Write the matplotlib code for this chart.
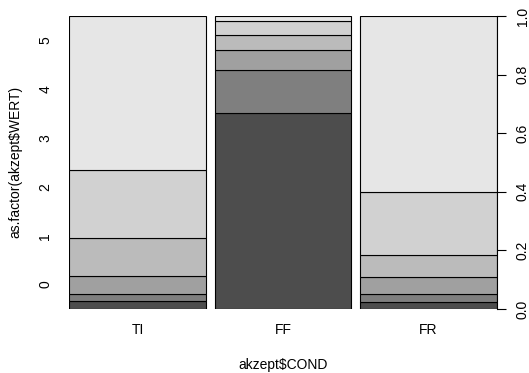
import matplotlib
matplotlib.use("Agg")
import matplotlib.pyplot as plt

plt.rcParams['font.family'] = ['Liberation Sans', 'DejaVu Sans']

# Spineplot: akzept$COND vs as.factor(akzept$WERT)
gruppen = ["TI", "FF", "FR"]
livelli = ["0", "1", "2", "3", "4", "5"]
# quota della colonna per gruppo (larghezze uguali)
larghezza = [1.0, 1.0, 1.0]
# proporzioni cumulative per livello, dal basso
cum_TI = [0.027, 0.052, 0.113, 0.242, 0.475, 1.0]
cum_FF = [0.668, 0.816, 0.885, 0.936, 0.984, 1.0]
cum_FR = [0.025, 0.052, 0.109, 0.184, 0.398, 1.0]
cumulative = [cum_TI, cum_FF, cum_FR]

colori = ["#4d4d4d", "#7f7f7f", "#a0a0a0", "#bbbbbb", "#d1d1d1", "#e6e6e6"]

fig = plt.figure(figsize=(5.29, 3.73), dpi=100)
ax = fig.add_axes([69 / 529, (373 - 309) / 373, (497 - 69) / 529, 293 / 373])

off = 0.02
tot = sum(larghezza)
n = len(gruppen)
scala = (1 - off * (n - 1)) / tot
x0 = 0
centri = []
for g in range(n):
    w = larghezza[g] * scala
    basso = 0
    for k in range(len(livelli)):
        alto = cumulative[g][k]
        ax.bar(x0, alto - basso, width=w, bottom=basso, align="edge",
               color=colori[k], edgecolor="black", linewidth=0.8)
        basso = alto
    centri.append(x0 + w / 2)
    x0 += w + off

ax.set_xlim(0, 1)
ax.set_ylim(0, 1)
for s in ax.spines.values():
    s.set_visible(False)

ax.set_xticks(centri)
ax.set_xticklabels(gruppen, fontsize=10)
ax.tick_params(axis="x", length=0, pad=10)

pos_livelli = [(i + 0.5) / len(livelli) for i in range(len(livelli))]
ax.set_yticks(pos_livelli)
ax.set_yticklabels(livelli, fontsize=10, rotation=90, va="center")
ax.tick_params(axis="y", length=0, pad=12)

ax2 = ax.twinx()
ax2.set_ylim(0, 1)
for s in ax2.spines.values():
    s.set_visible(False)
ax2.spines["right"].set_visible(True)
ax2.spines["right"].set_linewidth(0.8)
ax2.set_yticks([0.0, 0.2, 0.4, 0.6, 0.8, 1.0])
ax2.set_yticklabels(["0.0", "0.2", "0.4", "0.6", "0.8", "1.0"], fontsize=10,
                    rotation=90, va="center")
ax2.tick_params(axis="y", length=6.5, width=0.8, pad=7)

fig.text((69 + 497) / 2 / 529, 1 - 365 / 373, "akzept$COND", ha="center",
         va="center", fontsize=10)
fig.text(15 / 529, 1 - 162 / 373, "as.factor(akzept$WERT)", ha="center",
         va="center", rotation=90, fontsize=10)

fig.savefig("out.png", dpi=100)
